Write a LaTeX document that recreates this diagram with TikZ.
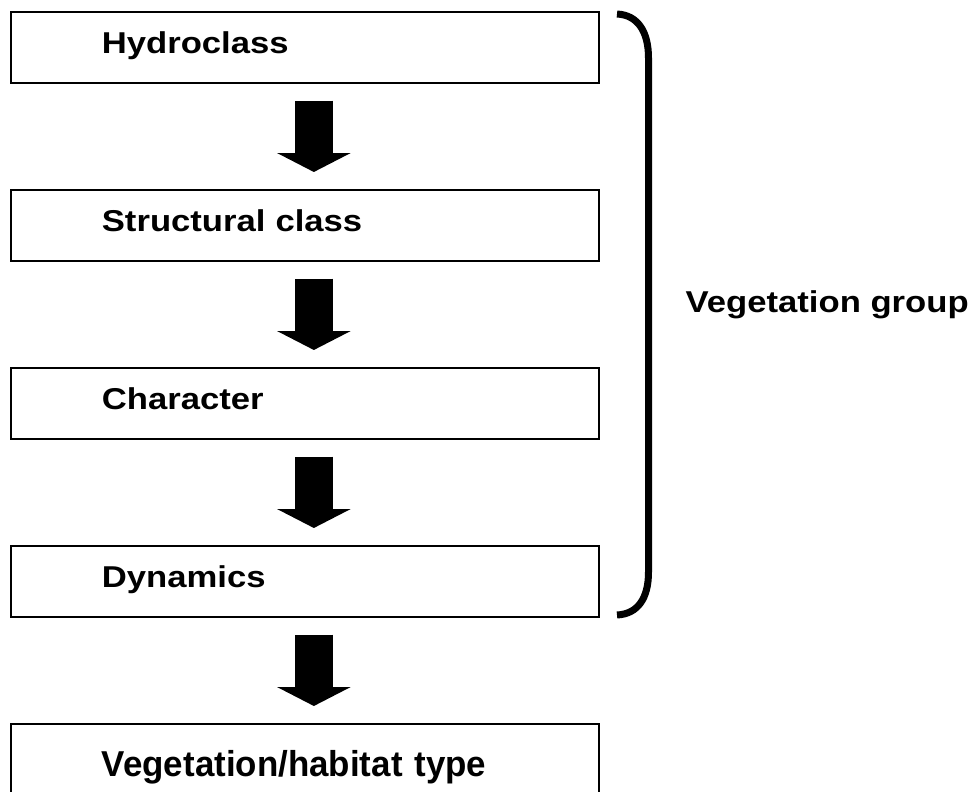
\documentclass[tikz,border=0pt]{standalone}
\usepackage{fontspec}
\usetikzlibrary{arrows.meta}
\newfontfamily\boxfont[FakeStretch=1.15]{Liberation Sans}
\newfontfamily\typefont[FakeStretch=0.97]{Liberation Sans}

\begin{document}
\begin{tikzpicture}[x=0.75pt, y=-0.75pt, node distance={133.5pt},
	box/.style = {draw, line width=1.3pt, rectangle, minimum width=441pt, minimum height=53.25pt, text width=304.5pt, inner xsep=68.25pt, align=left, text height=16.5pt, text depth=6.75pt, font=\boxfont\bfseries\fontsize{22.6}{26}\selectfont},
	arr/.style = {line width=28.5pt, -{Triangle[width=54.75pt, length=14.25pt]}},
	bracket/.style = {line width=5.25pt}]
	\useasboundingbox (0,0) rectangle (975,792);
	
	\node[box, anchor=north west] (hydro) at (10,11) {Hydroclass};
	\node[box] (struct) [below of=hydro] {Structural class};
	\node[box] (char) [below of=struct] {Character};
	\node[box] (dyn) [below of=char] {Dynamics};
	\node[box, text height=30pt, text depth=3.8pt, font=\typefont\bfseries\fontsize{27}{32}\selectfont] (type) [below of=dyn] {Vegetation/habitat type};
	
	\draw[arr] ([xshift=6.75pt, yshift=-12.75pt]hydro.south) -- ([xshift=6.75pt, yshift=12.75pt]struct.north);
	\draw[arr] ([xshift=6.75pt, yshift=-12.75pt]struct.south) -- ([xshift=6.75pt, yshift=12.75pt]char.north);
	\draw[arr] ([xshift=6.75pt, yshift=-12.75pt]char.south) -- ([xshift=6.75pt, yshift=12.75pt]dyn.north);
	\draw[arr] ([xshift=6.75pt, yshift=-12.75pt]dyn.south) -- ([xshift=6.75pt, yshift=12.75pt]type.north);
	
	% bracket round the first four boxes
	\draw[bracket] (617,14) .. controls (638,15) and (648.5,32) .. (648.5,58) -- (648.5,572) .. controls (648.5,598) and (638,614) .. (617,615);
	\node[font=\boxfont\bfseries\fontsize{22.6}{26}\selectfont, anchor=base west] (group) at (681,312) {Vegetation group};
\end{tikzpicture}
\end{document}
